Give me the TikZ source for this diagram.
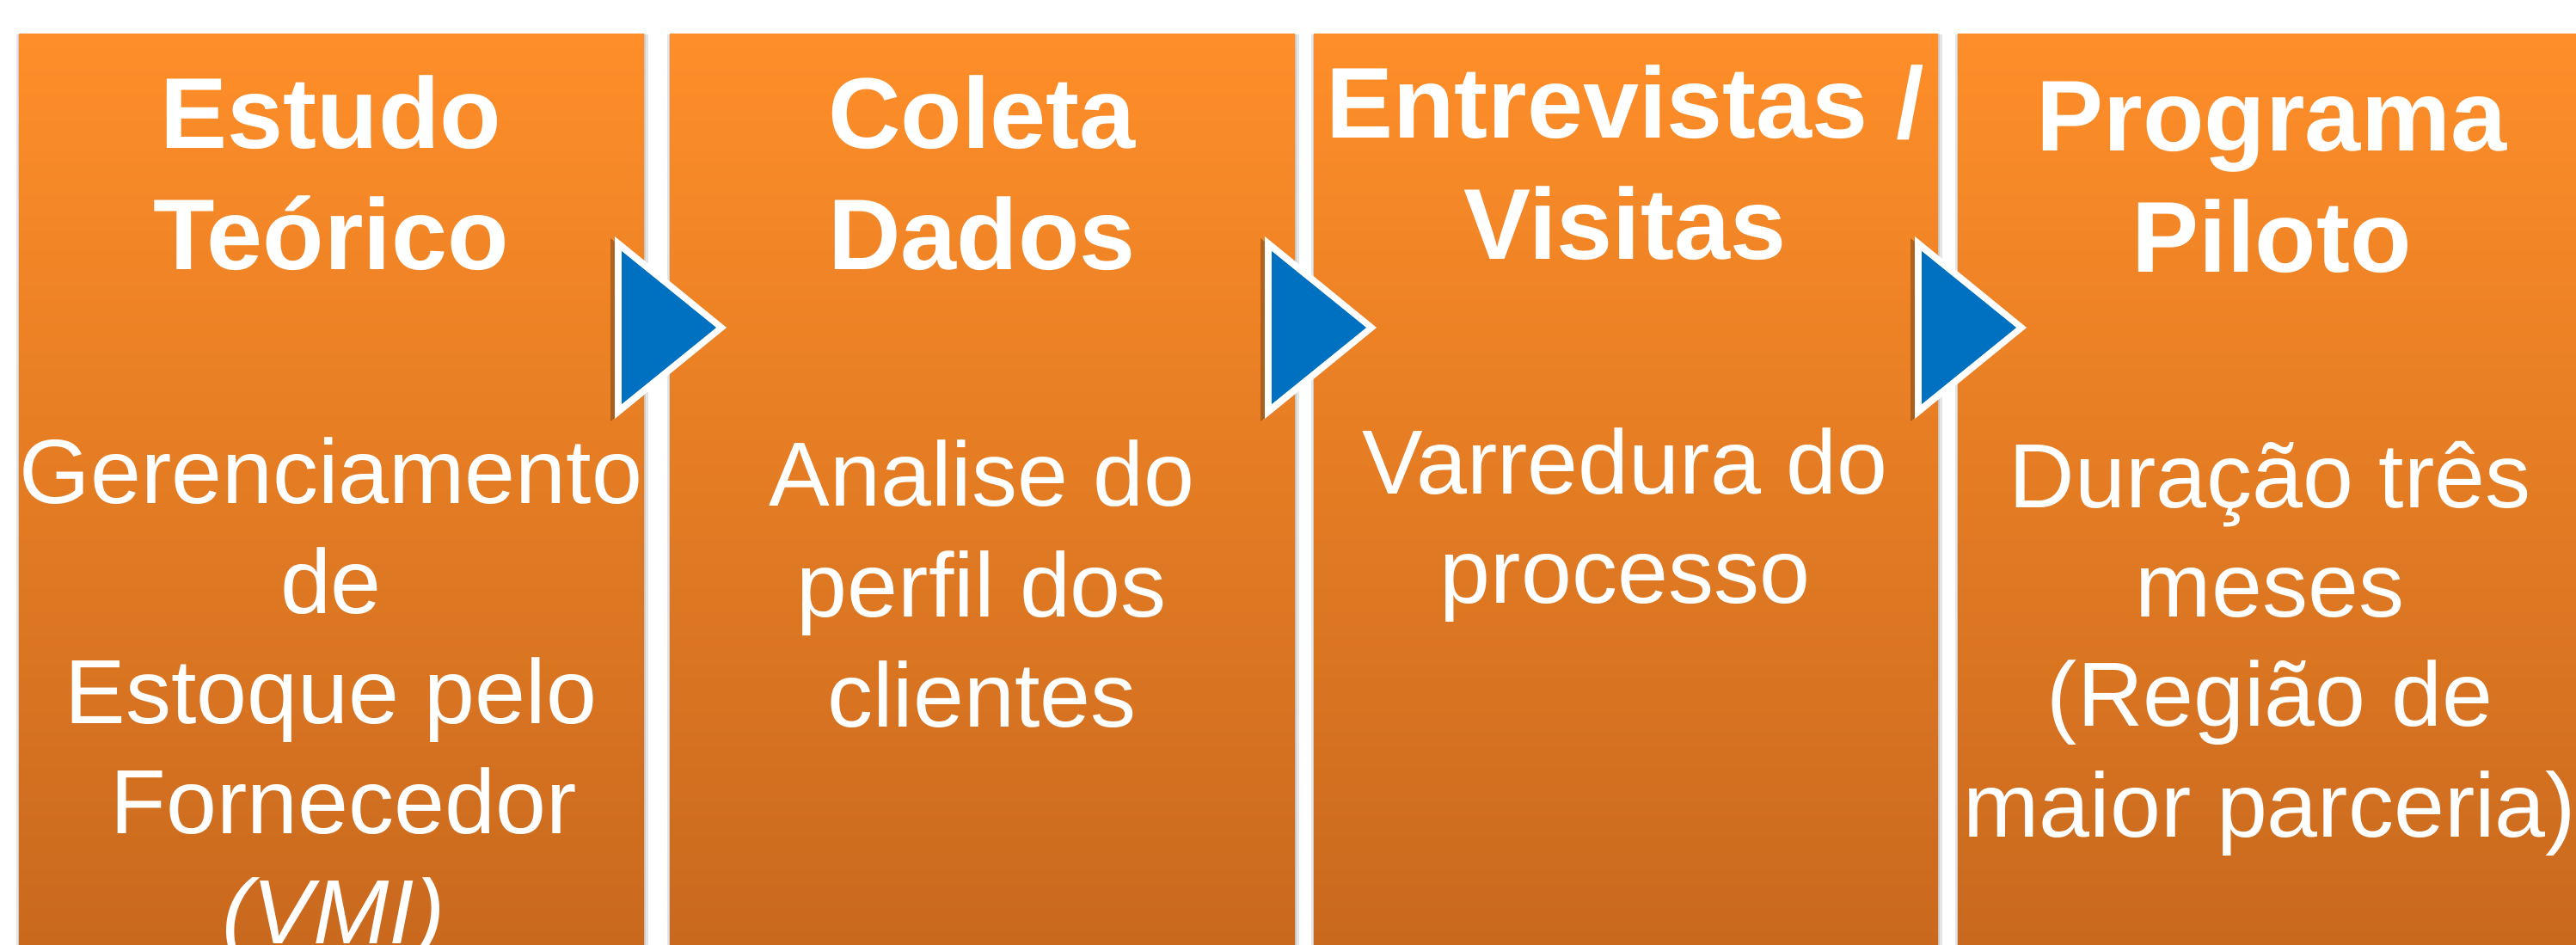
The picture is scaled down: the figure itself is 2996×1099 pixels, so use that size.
\documentclass[tikz,border=0pt]{standalone}
\usepackage{fontspec}
\setmainfont{Liberation Sans}
\definecolor{boxtop}{HTML}{FE8E29}
\definecolor{boxbot}{HTML}{C9691E}
\definecolor{arrowblue}{HTML}{0070C0}
\tikzset{
  stagebox/.style={top color=boxtop, bottom color=boxbot, draw=none},
  boxshadow/.style={fill=black, opacity=0.10, draw=none},
  headtxt/.style={anchor=base, text=white, inner sep=0pt, font=\fontsize{117}{141}\selectfont\bfseries},
  bodytxt/.style={anchor=base, text=white, inner sep=0pt, font=\fontsize{106}{128}\selectfont},
  triwhite/.style={fill=white, draw=none},
  triblue/.style={fill=arrowblue, draw=none},
  trishadow/.style={fill=black!70!brown, opacity=0.35, draw=none}
}
\begin{document}
\begin{tikzpicture}[x=1pt, y=-1pt]
\useasboundingbox (0,0) rectangle (2996,1099);
\clip (0,0) rectangle (2996,1099);
\fill[white] (0,0) rectangle (2996,1099);

% boxes (shadow then gradient)
\foreach \l/\r in {22/749, 779/1506, 1528/2254, 2277/3003} {
  \fill[boxshadow] (\l-3,40) rectangle (\r+5,1099);
  \fill[boxshadow] (\l-1,40) rectangle (\r+2,1099);
}
\shade[stagebox] (22,40) rectangle (749,1099);
\shade[stagebox] (779,40) rectangle (1506,1099);
\shade[stagebox] (1528,40) rectangle (2254,1099);
\shade[stagebox] (2277,40) rectangle (3003,1099);

% box 1
\node[headtxt] (h1a) at (385,173) {Estudo};
\node[headtxt] (h1b) at (385,314) {Teórico};
\node[bodytxt] (b1a) at (385,585) {Gerenciamento};
\node[bodytxt] (b1b) at (385,713) {de};
\node[bodytxt] (b1c) at (385,841) {Estoque pelo};
\node[bodytxt] (b1d) at (400,969) {Fornecedor};
\node[bodytxt] (b1e) at (388,1097) {\itshape (VMI)};

% box 2
\node[headtxt] (h2a) at (1142,173) {Coleta};
\node[headtxt] (h2b) at (1142,314) {Dados};
\node[bodytxt] (b2a) at (1142,588) {Analise do};
\node[bodytxt] (b2b) at (1142,717) {perfil dos};
\node[bodytxt] (b2c) at (1142,845) {clientes};

% box 3
\node[headtxt] (h3a) at (1890,161) {Entrevistas /};
\node[headtxt] (h3b) at (1890,302) {Visitas};
\node[bodytxt] (b3a) at (1890,574) {Varredura do};
\node[bodytxt] (b3b) at (1890,701) {processo};

% box 4
\node[headtxt] (h4a) at (2642,176) {Programa};
\node[headtxt] (h4b) at (2642,317) {Piloto};
\node[bodytxt] (b4a) at (2640,590) {Duração três};
\node[bodytxt] (b4b) at (2640,717) {meses};
\node[bodytxt] (b4c) at (2640,844) {(Região de};
\node[bodytxt] (b4d) at (2640,973) {maior parceria)};

% arrows between stages
\foreach \L in {715, 1471, 2227} {
  \fill[trishadow] (\L-5,277) -- (\L-5,490) -- (\L+126,384) -- cycle;
  \fill[triwhite] (\L,275) -- (\L,487) -- (\L+130,381) -- cycle;
  \fill[triblue] (\L+8,292) -- (\L+8,470) -- (\L+118,381) -- cycle;
}
\end{tikzpicture}
\end{document}
